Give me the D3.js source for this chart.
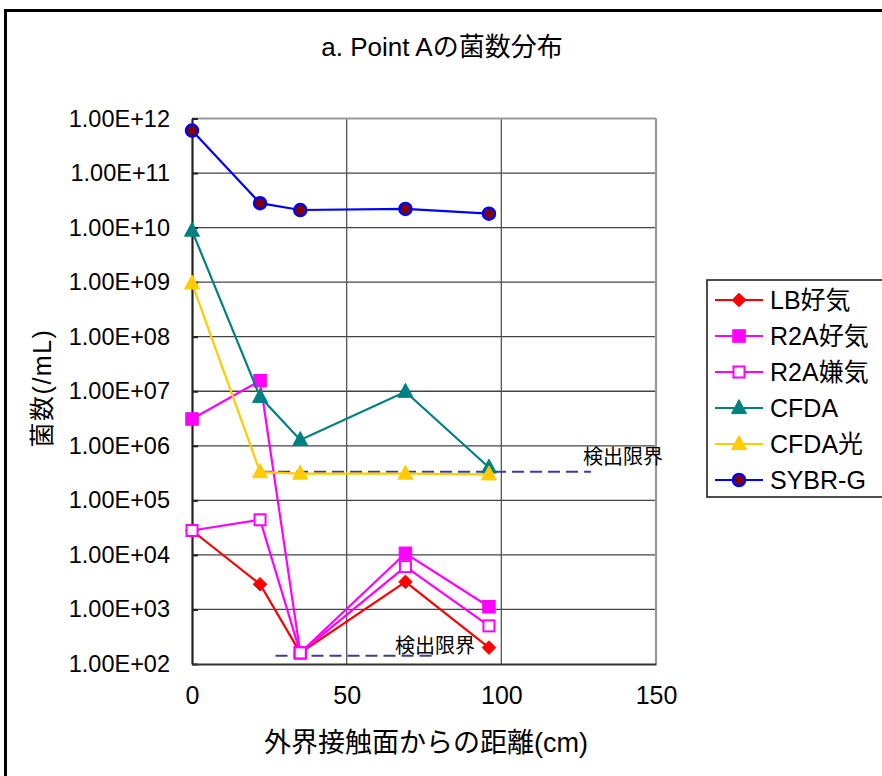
<!DOCTYPE html>
<html>
<head>
<meta charset="utf-8">
<script src="https://cdn.jsdelivr.net/npm/d3@7"></script>
<style>
  html, body { margin: 0; padding: 0; background: #fff; }
  svg text { font-family: "Liberation Sans", Arial, "Noto Sans CJK JP", sans-serif; fill: #000; }
</style>
</head>
<body>
<svg id="chart" width="882" height="776"></svg>
<script>
// Distance from the outside contact surface (cm)
const distances = [0, 22, 35, 69, 96];

// Bacterial counts per mL at each distance
const lbAerobic   = [2.8e4, 2.9e3, 1.6e2, 3.2e3, 2.0e2];
const r2aAerobic  = [3.1e6, 1.56e7, 1.6e2, 1.07e4, 1.12e3];
const r2aAnaerobic = [2.8e4, 4.4e4, 1.6e2, 6.1e3, 5.0e2];
const cfda        = [8.8e9, 7.9e6, 1.28e6, 9.8e6, 4.0e5];
const cfdaLight   = [9.5e8, 3.3e5, 3.1e5, 3.1e5, 3.0e5];
const sybrG       = [6.0e11, 2.8e10, 2.1e10, 2.2e10, 1.8e10];

const seriesNames = ["LB好気", "R2A好気", "R2A嫌気", "CFDA", "CFDA光", "SYBR-G"];
const seriesValues = [lbAerobic, r2aAerobic, r2aAnaerobic, cfda, cfdaLight, sybrG];

// Detection limits: value and the distance range the dashed line spans
const limitUpper = { value: 3.35e5, from: 22, to: 129 };
const limitLower = { value: 1.42e2, from: 27, to: 78 };
const limitLabel = "検出限界";

const xTicks = [0, 50, 100, 150];
const yTicks = [1e2, 1e3, 1e4, 1e5, 1e6, 1e7, 1e8, 1e9, 1e10, 1e11, 1e12];

const titleText = "a. Point Aの菌数分布";
const xTitle = "外界接触面からの距離(cm)";
const yTitle = "菌数(/mL)";

// Visual styles per series
const styles = [
  { color: "#ff0000", marker: "diamond",  fill: "#ff0000" },
  { color: "#ff00ff", marker: "square",   fill: "#ff00ff" },
  { color: "#ff00ff", marker: "square",   fill: "#ffffff" },
  { color: "#008080", marker: "triangle", fill: "#008080" },
  { color: "#ffcc00", marker: "triangle", fill: "#ffcc00" },
  { color: "#0000ff", marker: "circle",   fill: "#800000" }
];

const svg = d3.select("#chart");
const W = 882, H = 776;
const plot = { left: 192, right: 656, top: 118.5, bottom: 664 };

svg.append("rect").attr("width", W).attr("height", H).attr("fill", "#fff");
// Outer frame
svg.append("rect")
  .attr("x", 5.5).attr("y", 10.5).attr("width", 900).attr("height", 800)
  .attr("fill", "none").attr("stroke", "#000").attr("stroke-width", 3);

const x = d3.scaleLinear().domain([0, 150]).range([plot.left, plot.right]);
const y = d3.scaleLog().domain([1e2, 1e12]).range([plot.bottom, plot.top]);

// Gridlines
const grid = svg.append("g");
grid.selectAll("line.h").data(yTicks.slice(1, -1)).join("line")
  .attr("x1", plot.left).attr("x2", plot.right)
  .attr("y1", d => y(d)).attr("y2", d => y(d))
  .attr("stroke", "#444").attr("stroke-width", 1.3);
grid.selectAll("line.v").data(xTicks.slice(1, -1)).join("line")
  .attr("x1", d => x(d)).attr("x2", d => x(d))
  .attr("y1", plot.top).attr("y2", plot.bottom)
  .attr("stroke", "#555").attr("stroke-width", 1.3);

// Plot frame: grey top/right, dark left/bottom axes
svg.append("line").attr("x1", plot.left).attr("x2", plot.right)
  .attr("y1", plot.top).attr("y2", plot.top).attr("stroke", "#999").attr("stroke-width", 2.2);
svg.append("line").attr("x1", plot.right).attr("x2", plot.right)
  .attr("y1", plot.top).attr("y2", plot.bottom).attr("stroke", "#999").attr("stroke-width", 2.2);

const fmt = d => {
  const e = Math.round(Math.log10(d));
  const m = d / Math.pow(10, e);
  return m.toFixed(2) + "E" + (e < 0 ? "-" : "+") + String(Math.abs(e)).padStart(2, "0");
};

const yAxis = svg.append("g").attr("transform", `translate(${plot.left},0)`)
  .call(d3.axisLeft(y).tickValues(yTicks).tickFormat(fmt).tickSizeInner(-6).tickSizeOuter(0).tickPadding(22));
yAxis.select(".domain").attr("stroke", "#222").attr("stroke-width", 2.2);
yAxis.selectAll(".tick line").attr("stroke", "#222").attr("stroke-width", 2);
yAxis.selectAll(".tick text").attr("font-size", 23.5).attr("font-family", "Liberation Sans, Arial, sans-serif").attr("fill", "#000");

const xAxis = svg.append("g").attr("transform", `translate(0,${plot.bottom})`)
  .call(d3.axisBottom(x).tickValues(xTicks).tickSize(0).tickPadding(22));
xAxis.select(".domain").attr("stroke", "#333").attr("stroke-width", 2.2);
xAxis.selectAll(".tick text").attr("font-size", 25).attr("font-family", "Liberation Sans, Arial, sans-serif").attr("fill", "#000");

// Titles
svg.append("text").attr("x", 442).attr("y", 56).attr("text-anchor", "middle")
  .attr("font-size", 26).text(titleText);
svg.append("text").attr("x", 426).attr("y", 752).attr("text-anchor", "middle")
  .attr("font-size", 27).text(xTitle);
svg.append("text").attr("transform", "translate(51,388) rotate(-90)")
  .attr("text-anchor", "middle").attr("font-size", 25).attr("letter-spacing", 1.5).text(yTitle);

// Detection limit dashed lines and labels
const limits = svg.append("g");
[limitUpper, limitLower].forEach(l => {
  limits.append("line")
    .attr("x1", x(l.from)).attr("x2", x(l.to))
    .attr("y1", y(l.value)).attr("y2", y(l.value))
    .attr("stroke", "#3c3ca0").attr("stroke-width", 2).attr("stroke-dasharray", "12,6");
});
limits.append("text").attr("x", 583).attr("y", 464).attr("font-size", 20).text(limitLabel);
limits.append("text").attr("x", 395).attr("y", 653).attr("font-size", 20).text(limitLabel);

// Marker drawing
function drawMarker(g, type, cx, cy, st) {
  if (type === "diamond") {
    const r = 6.8;
    g.append("path").attr("d", `M${cx},${cy - r}L${cx + r},${cy}L${cx},${cy + r}L${cx - r},${cy}Z`)
      .attr("fill", st.fill).attr("stroke", st.color).attr("stroke-width", 1);
  } else if (type === "square") {
    const s = st.fill === "#ffffff" ? 11 : 12.5;
    g.append("rect").attr("x", cx - s / 2).attr("y", cy - s / 2).attr("width", s).attr("height", s)
      .attr("fill", st.fill).attr("stroke", st.color).attr("stroke-width", st.fill === "#ffffff" ? 2 : 1);
  } else if (type === "triangle") {
    const w = 15, h = 14;
    g.append("path").attr("d", `M${cx},${cy - h * 0.6}L${cx + w / 2},${cy + h * 0.4}L${cx - w / 2},${cy + h * 0.4}Z`)
      .attr("fill", st.fill).attr("stroke", st.color).attr("stroke-width", 1);
  } else if (type === "circle") {
    g.append("circle").attr("cx", cx).attr("cy", cy).attr("r", 6)
      .attr("fill", st.fill).attr("stroke", st.color).attr("stroke-width", 2.5);
  }
}

const line = d3.line().x(d => x(d[0])).y(d => y(d[1]));
seriesValues.forEach((vals, i) => {
  const st = styles[i];
  const g = svg.append("g");
  const pts = distances.map((d, j) => [d, vals[j]]);
  g.append("path").attr("d", line(pts)).attr("fill", "none")
    .attr("stroke", st.color).attr("stroke-width", 2.2);
  pts.forEach(p => drawMarker(g, st.marker, x(p[0]), y(p[1]), st));
});

// Legend
const legend = svg.append("g");
legend.append("rect").attr("x", 707).attr("y", 280).attr("width", 200).attr("height", 217)
  .attr("fill", "#fff").attr("stroke", "#222").attr("stroke-width", 1.6);
const rowY = d3.scalePoint().domain(seriesNames).range([300, 480]);
seriesNames.forEach((name, i) => {
  const st = styles[i];
  const cy = rowY(name);
  const g = legend.append("g");
  g.append("line").attr("x1", 715).attr("x2", 763).attr("y1", cy).attr("y2", cy)
    .attr("stroke", st.color).attr("stroke-width", 2.2);
  drawMarker(g, st.marker, 739, cy, st);
  g.append("text").attr("x", 770).attr("y", cy + 9).attr("font-size", 25).text(name);
});
</script>
</body>
</html>
